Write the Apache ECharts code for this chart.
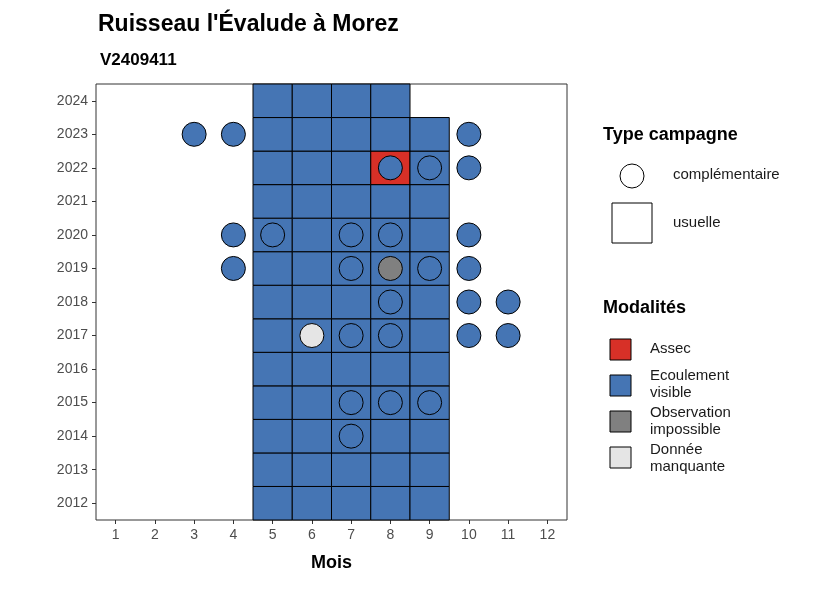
<!DOCTYPE html>
<html><head><meta charset="utf-8">
<script src="https://cdn.jsdelivr.net/npm/echarts@6/dist/echarts.min.js"></script>
<style>html,body{margin:0;padding:0;background:#fff}#c{width:826px;height:590px}</style>
</head><body><div id="c"></div>
<script>
const months = ['1','2','3','4','5','6','7','8','9','10','11','12'];
const years = ['2012','2013','2014','2015','2016','2017','2018','2019','2020','2021','2022','2023','2024'];
// usual campaign tiles: [month, year, modality]
const tileMonths2012_2023 = ['5','6','7','8','9'];
const tileMonths2024 = ['5','6','7','8'];
const assecTiles = [['8','2022']];
// complementary campaign points: [month, year, modality]
const points = [
 ['3','2023','E'],['4','2023','E'],['10','2023','E'],
 ['8','2022','E'],['9','2022','E'],['10','2022','E'],
 ['4','2020','E'],['5','2020','E'],['7','2020','E'],['8','2020','E'],['10','2020','E'],
 ['4','2019','E'],['7','2019','E'],['8','2019','O'],['9','2019','E'],['10','2019','E'],
 ['8','2018','E'],['10','2018','E'],['11','2018','E'],
 ['6','2017','M'],['7','2017','E'],['8','2017','E'],['10','2017','E'],['11','2017','E'],
 ['7','2015','E'],['8','2015','E'],['9','2015','E'],
 ['7','2014','E']
];
const colors = {A:'#d73027', E:'#4575b4', O:'#808080', M:'#e5e5e5'};

const tiles = [];
years.forEach(y => {
  const ms = y === '2024' ? tileMonths2024 : tileMonths2012_2023;
  ms.forEach(m => {
    const isA = assecTiles.some(a => a[0] === m && a[1] === y);
    tiles.push([m, y, isA ? 'A' : 'E']);
  });
});

const chart = echarts.init(document.getElementById('c'));
const axisLab = {color:'#4d4d4d', fontSize:14, fontFamily:'Liberation Sans'};
chart.setOption({
  animation:false,
  title:[
    {text:"Ruisseau l'Évalude à Morez", left:93, top:8, textStyle:{fontSize:23, fontWeight:'bold', color:'#000', fontFamily:'Liberation Sans'}},
    {text:'V2409411', left:95, top:47, textStyle:{fontSize:17, fontWeight:'bold', color:'#000', fontFamily:'Liberation Sans'}}
  ],
  grid:{left:96, top:84, width:471, height:436, show:true, borderColor:'#333', borderWidth:1, backgroundColor:'#fff'},
  xAxis:{type:'category', data:months, name:'Mois', nameLocation:'middle', nameGap:34,
    nameTextStyle:{fontSize:18, fontWeight:'bold', color:'#000', fontFamily:'Liberation Sans'},
    axisLine:{show:false}, axisTick:{show:true, alignWithLabel:true, length:4, lineStyle:{color:'#333'}},
    axisLabel:axisLab, splitLine:{show:false}},
  yAxis:{type:'category', data:years, axisLine:{show:false},
    axisTick:{show:true, alignWithLabel:true, length:4, lineStyle:{color:'#333'}},
    axisLabel:axisLab, splitLine:{show:false}},
  series:[
    {type:'custom', data:tiles, encode:{x:0,y:1},
     renderItem:(params, api) => {
       const c = api.coord([api.value(0), api.value(1)]);
       const s = api.size([1,1]);
       return {type:'rect', shape:{x:c[0]-s[0]/2, y:c[1]-s[1]/2, width:s[0], height:s[1]},
         style:{fill:colors[api.value(2)], stroke:'#000', lineWidth:1}};
     }},
    {type:'scatter', data:points.map(p => ({value:[p[0],p[1]], itemStyle:{color:colors[p[2]]}})),
     symbol:'circle', symbolSize:24, itemStyle:{borderColor:'#000', borderWidth:1, opacity:1}}
  ],
  graphic:[
    {type:'text', left:603, top:126, style:{text:'Type campagne', fontSize:18, fontWeight:'bold', fill:'#000', fontFamily:'Liberation Sans'}},
    {type:'circle', shape:{cx:632, cy:176, r:12}, style:{fill:'#fff', stroke:'#000', lineWidth:1}},
    {type:'text', left:673, top:167, style:{text:'complémentaire', fontSize:15, fill:'#1a1a1a', fontFamily:'Liberation Sans'}},
    {type:'rect', shape:{x:612, y:203, width:40, height:40}, style:{fill:'#fff', stroke:'#000', lineWidth:1}},
    {type:'text', left:673, top:215, style:{text:'usuelle', fontSize:15, fill:'#1a1a1a', fontFamily:'Liberation Sans'}},
    {type:'text', left:603, top:299, style:{text:'Modalités', fontSize:18, fontWeight:'bold', fill:'#000', fontFamily:'Liberation Sans'}},
    {type:'rect', shape:{x:610, y:339, width:21, height:21}, style:{fill:colors.A, stroke:'#000', lineWidth:1}},
    {type:'text', left:650, top:341, style:{text:'Assec', fontSize:15, fill:'#1a1a1a', fontFamily:'Liberation Sans'}},
    {type:'rect', shape:{x:610, y:375, width:21, height:21}, style:{fill:colors.E, stroke:'#000', lineWidth:1}},
    {type:'text', left:650, top:367, style:{text:'Ecoulement\nvisible', fontSize:15, lineHeight:17, fill:'#1a1a1a', fontFamily:'Liberation Sans'}},
    {type:'rect', shape:{x:610, y:411, width:21, height:21}, style:{fill:colors.O, stroke:'#000', lineWidth:1}},
    {type:'text', left:650, top:404, style:{text:'Observation\nimpossible', fontSize:15, lineHeight:17, fill:'#1a1a1a', fontFamily:'Liberation Sans'}},
    {type:'rect', shape:{x:610, y:447, width:21, height:21}, style:{fill:colors.M, stroke:'#000', lineWidth:1}},
    {type:'text', left:650, top:441, style:{text:'Donnée\nmanquante', fontSize:15, lineHeight:17, fill:'#1a1a1a', fontFamily:'Liberation Sans'}}
  ]
});
</script></body></html>
